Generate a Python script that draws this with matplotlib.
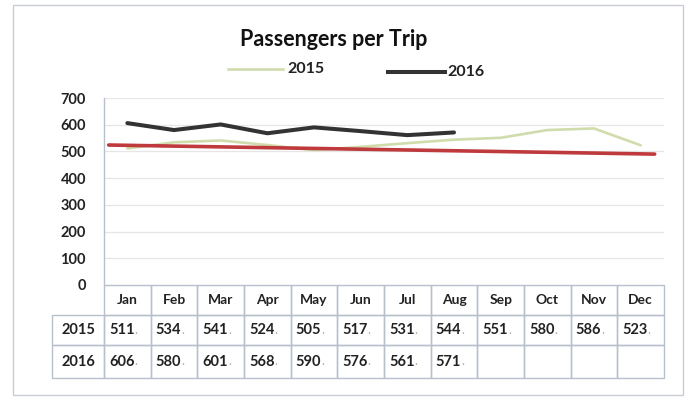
import matplotlib
matplotlib.use("Agg")
import matplotlib.pyplot as plt
from matplotlib.lines import Line2D
from matplotlib.patches import Rectangle

months = ["Jan", "Feb", "Mar", "Apr", "May", "Jun", "Jul", "Aug", "Sep", "Oct", "Nov", "Dec"]
series_2015 = [511, 534, 541, 524, 505, 517, 531, 544, 551, 580, 586, 523]
series_2016 = [606, 580, 601, 568, 590, 576, 561, 571]
trend_x = [-0.4, 11.3]
trend_y = [524, 490]
yticks = [0, 100, 200, 300, 400, 500, 600, 700]
title = "Passengers per Trip"

W, H = 687, 404
fig = plt.figure(figsize=(W / 100, H / 100), dpi=100)
plt.rcParams['font.family'] = ['Lato', 'DejaVu Sans']

def fx(px):
    return px / W

def fy(py):
    return 1 - py / H

C15 = "#d0dcab"
C16 = "#333333"
CTR = "#bf3a3d"

# outer chart border
fig.patches.append(Rectangle((fx(13), fy(395)), fx(683) - fx(13), fy(5) - fy(395),
                             transform=fig.transFigure, fill=False, edgecolor="#c9ccd2", lw=1.0))

ax_l, ax_r, ax_t, ax_b = 104, 664, 98, 285
ax = fig.add_axes([fx(ax_l), fy(ax_b), fx(ax_r) - fx(ax_l), fy(ax_t) - fy(ax_b)])
ax.set_xlim(-0.5, 11.5)
ax.set_ylim(0, 700)
ax.set_yticks(yticks)
ax.set_yticklabels([str(v) for v in yticks], fontsize=10.5, fontweight="bold", color="#222222")
ax.tick_params(axis="y", length=0, pad=13)
ax.set_xticks([])
for s in ["top", "right", "bottom"]:
    ax.spines[s].set_visible(False)
ax.spines["left"].set_color("#b8c0cc")
ax.spines["left"].set_linewidth(1.0)
for v in yticks[1:]:
    ax.axhline(v, color="#e6e6e6", lw=0.9, zorder=1)

ax.plot(range(len(series_2015)), series_2015, color=C15, lw=1.9, zorder=3, solid_capstyle="round")
ax.plot(trend_x, trend_y, color=CTR, lw=2.6, zorder=4, solid_capstyle="round")
ax.plot(range(len(series_2016)), series_2016, color=C16, lw=2.9, zorder=5, solid_capstyle="round")

# title and legend
fig.text(fx(334), fy(40), title, ha="center", va="center", fontsize=15.5, fontweight="bold", color="#111111")
fig.lines.append(Line2D([fx(228), fx(283)], [fy(69), fy(69)], transform=fig.transFigure, color=C15, lw=1.9))
fig.text(fx(287), fy(69), "2015", ha="left", va="center", fontsize=11.5, fontweight="bold", color="#222222")
fig.lines.append(Line2D([fx(388), fx(445)], [fy(72), fy(72)], transform=fig.transFigure, color=C16, lw=2.9))
fig.text(fx(447), fy(72), "2016", ha="left", va="center", fontsize=11.5, fontweight="bold", color="#222222")

# data table
col_w = (ax_r - ax_l) / len(months)
rows_y = [285, 315, 345, 378]
lbl_l = 52
edge = "#b8c0cc"

def cell(x0, y0, x1, y1):
    fig.patches.append(Rectangle((fx(x0), fy(y1)), fx(x1) - fx(x0), fy(y0) - fy(y1),
                                 transform=fig.transFigure, fill=False, edgecolor=edge, lw=1.0))

for i, m in enumerate(months):
    x0 = ax_l + i * col_w
    x1 = x0 + col_w
    for r in range(3):
        cell(x0, rows_y[r], x1, rows_y[r + 1])
    fig.text(fx((x0 + x1) / 2), fy((rows_y[0] + rows_y[1]) / 2), m, ha="center", va="center",
             fontsize=10, fontweight="bold", color="#222222")

row_labels = ["2015", "2016"]
row_data = [series_2015, series_2016]
for r, (lab, vals) in enumerate(zip(row_labels, row_data)):
    y0, y1 = rows_y[r + 1], rows_y[r + 2]
    cell(lbl_l, y0, ax_l, y1)
    fig.text(fx((lbl_l + ax_l) / 2), fy((y0 + y1) / 2), lab, ha="center", va="center",
             fontsize=10.5, fontweight="bold", color="#222222")
    for i, v in enumerate(vals):
        x0 = ax_l + i * col_w
        t = fig.text(fx(x0 + 5), fy((y0 + y1) / 2), str(v), ha="left", va="center",
                     fontsize=10.5, fontweight="bold", color="#222222")
        ax.annotate(".", xy=(1, 0.1), xycoords=t, ha="left", va="bottom", fontsize=9,
                    color="#aaaaaa", annotation_clip=False)

fig.savefig("out.png", dpi=100)
